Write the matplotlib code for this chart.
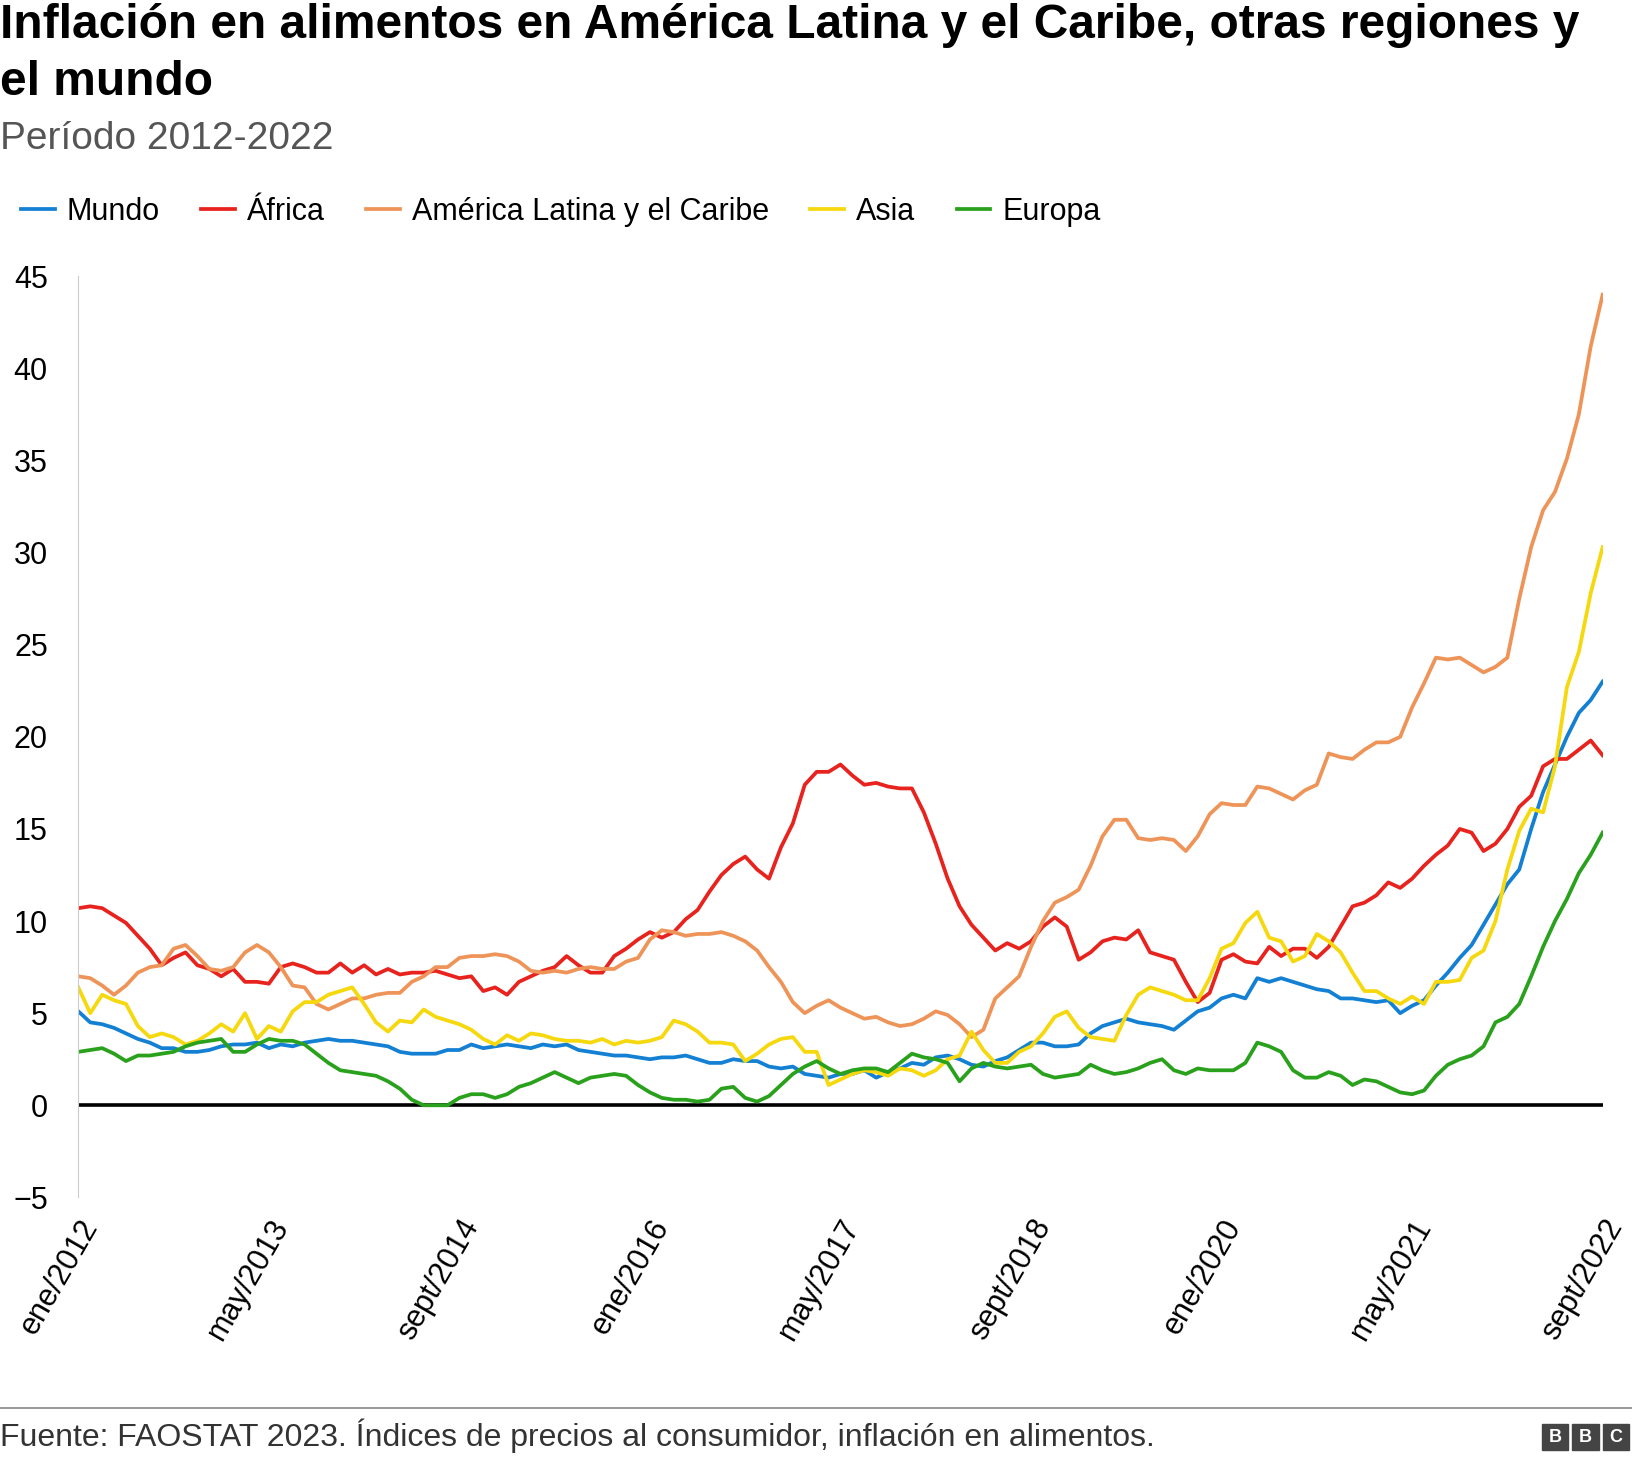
import matplotlib
matplotlib.use("Agg")
import matplotlib.pyplot as plt
from matplotlib.patches import Rectangle

plt.rcParams['font.family'] = ['Liberation Sans', 'DejaVu Sans']
plt.rcParams['axes.unicode_minus'] = True

tick_labels = ["ene/2012", "may/2013", "sept/2014", "ene/2016", "may/2017",
               "sept/2018", "ene/2020", "may/2021", "sept/2022"]
series_names = ["Mundo", "África", "América Latina y el Caribe", "Asia", "Europa"]
colors = ["#1380d3", "#e8231e", "#ef9458", "#f6d80f", "#2aa11c"]

mundo = [5.1, 4.5, 4.4, 4.2, 3.9, 3.6, 3.4, 3.1, 3.1, 2.9, 2.9, 3.0,
         3.2, 3.3, 3.3, 3.4, 3.1, 3.3, 3.2, 3.4, 3.5, 3.6, 3.5, 3.5,
         3.4, 3.3, 3.2, 2.9, 2.8, 2.8, 2.8, 3.0, 3.0, 3.3, 3.1, 3.2,
         3.3, 3.2, 3.1, 3.3, 3.2, 3.3, 3.0, 2.9, 2.8, 2.7, 2.7, 2.6,
         2.5, 2.6, 2.6, 2.7, 2.5, 2.3, 2.3, 2.5, 2.4, 2.4, 2.1, 2.0,
         2.1, 1.7, 1.6, 1.5, 1.7, 1.7, 1.9, 1.5, 1.8, 2.0, 2.3, 2.2,
         2.6, 2.7, 2.5, 2.2, 2.1, 2.4, 2.6, 3.0, 3.4, 3.4, 3.2, 3.2,
         3.3, 3.9, 4.3, 4.5, 4.7, 4.5, 4.4, 4.3, 4.1, 4.6, 5.1, 5.3,
         5.8, 6.0, 5.8, 6.9, 6.7, 6.9, 6.7, 6.5, 6.3, 6.2, 5.8, 5.8,
         5.7, 5.6, 5.7, 5.0, 5.4, 5.7, 6.5, 7.2, 8.0, 8.7, 9.8, 10.9,
         12.0, 12.8, 15.0, 17.0, 18.5, 20.0, 21.3, 22.0, 23.0]
africa = [10.7, 10.8, 10.7, 10.3, 9.9, 9.2, 8.5, 7.6, 8.0, 8.3, 7.6, 7.4,
          7.0, 7.4, 6.7, 6.7, 6.6, 7.5, 7.7, 7.5, 7.2, 7.2, 7.7, 7.2,
          7.6, 7.1, 7.4, 7.1, 7.2, 7.2, 7.3, 7.1, 6.9, 7.0, 6.2, 6.4,
          6.0, 6.7, 7.0, 7.3, 7.5, 8.1, 7.6, 7.2, 7.2, 8.1, 8.5, 9.0,
          9.4, 9.1, 9.4, 10.1, 10.6, 11.6, 12.5, 13.1, 13.5, 12.8, 12.3, 14.0,
          15.3, 17.4, 18.1, 18.1, 18.5, 17.9, 17.4, 17.5, 17.3, 17.2, 17.2, 15.9,
          14.2, 12.3, 10.8, 9.8, 9.1, 8.4, 8.8, 8.5, 8.9, 9.7, 10.2, 9.7,
          7.9, 8.3, 8.9, 9.1, 9.0, 9.5, 8.3, 8.1, 7.9, 6.7, 5.6, 6.1,
          7.9, 8.2, 7.8, 7.7, 8.6, 8.1, 8.5, 8.5, 8.0, 8.6, 9.7, 10.8,
          11.0, 11.4, 12.1, 11.8, 12.3, 13.0, 13.6, 14.1, 15.0, 14.8, 13.8, 14.2,
          15.0, 16.2, 16.8, 18.4, 18.8, 18.8, 19.3, 19.8, 19.0]
latam = [7.0, 6.9, 6.5, 6.0, 6.5, 7.2, 7.5, 7.6, 8.5, 8.7, 8.1, 7.4,
         7.3, 7.5, 8.3, 8.7, 8.3, 7.5, 6.5, 6.4, 5.5, 5.2, 5.5, 5.8,
         5.8, 6.0, 6.1, 6.1, 6.7, 7.0, 7.5, 7.5, 8.0, 8.1, 8.1, 8.2,
         8.1, 7.8, 7.3, 7.2, 7.3, 7.2, 7.4, 7.5, 7.4, 7.4, 7.8, 8.0,
         9.0, 9.5, 9.4, 9.2, 9.3, 9.3, 9.4, 9.2, 8.9, 8.4, 7.5, 6.7,
         5.6, 5.0, 5.4, 5.7, 5.3, 5.0, 4.7, 4.8, 4.5, 4.3, 4.4, 4.7,
         5.1, 4.9, 4.4, 3.7, 4.1, 5.8, 6.4, 7.0, 8.6, 10.0, 11.0, 11.3,
         11.7, 13.0, 14.6, 15.5, 15.5, 14.5, 14.4, 14.5, 14.4, 13.8, 14.6, 15.8,
         16.4, 16.3, 16.3, 17.3, 17.2, 16.9, 16.6, 17.1, 17.4, 19.1, 18.9, 18.8,
         19.3, 19.7, 19.7, 20.0, 21.6, 22.9, 24.3, 24.2, 24.3, 23.9, 23.5, 23.8,
         24.3, 27.5, 30.3, 32.3, 33.3, 35.1, 37.5, 41.2, 44.0]
asia = [6.4, 5.0, 6.0, 5.7, 5.5, 4.3, 3.7, 3.9, 3.7, 3.3, 3.5, 3.9,
        4.4, 4.0, 5.0, 3.6, 4.3, 4.0, 5.1, 5.6, 5.6, 6.0, 6.2, 6.4,
        5.5, 4.5, 4.0, 4.6, 4.5, 5.2, 4.8, 4.6, 4.4, 4.1, 3.6, 3.3,
        3.8, 3.5, 3.9, 3.8, 3.6, 3.5, 3.5, 3.4, 3.6, 3.3, 3.5, 3.4,
        3.5, 3.7, 4.6, 4.4, 4.0, 3.4, 3.4, 3.3, 2.4, 2.8, 3.3, 3.6,
        3.7, 2.9, 2.9, 1.1, 1.4, 1.7, 1.9, 1.8, 1.6, 2.0, 1.9, 1.6,
        1.9, 2.5, 2.7, 4.0, 3.0, 2.3, 2.3, 2.9, 3.2, 3.9, 4.8, 5.1,
        4.2, 3.7, 3.6, 3.5, 4.9, 6.0, 6.4, 6.2, 6.0, 5.7, 5.7, 6.9,
        8.5, 8.8, 9.9, 10.5, 9.1, 8.9, 7.8, 8.1, 9.3, 8.9, 8.3, 7.2,
        6.2, 6.2, 5.8, 5.5, 5.9, 5.5, 6.7, 6.7, 6.8, 8.0, 8.4, 10.0,
        12.8, 14.9, 16.1, 15.9, 18.4, 22.7, 24.6, 27.8, 30.3]
europa = [2.9, 3.0, 3.1, 2.8, 2.4, 2.7, 2.7, 2.8, 2.9, 3.2, 3.4, 3.5,
          3.6, 2.9, 2.9, 3.3, 3.6, 3.5, 3.5, 3.3, 2.8, 2.3, 1.9, 1.8,
          1.7, 1.6, 1.3, 0.9, 0.3, 0.0, 0.0, 0.0, 0.4, 0.6, 0.6, 0.4,
          0.6, 1.0, 1.2, 1.5, 1.8, 1.5, 1.2, 1.5, 1.6, 1.7, 1.6, 1.1,
          0.7, 0.4, 0.3, 0.3, 0.2, 0.3, 0.9, 1.0, 0.4, 0.2, 0.5, 1.1,
          1.7, 2.1, 2.4, 2.0, 1.7, 1.9, 2.0, 2.0, 1.8, 2.3, 2.8, 2.6,
          2.5, 2.3, 1.3, 2.0, 2.3, 2.1, 2.0, 2.1, 2.2, 1.7, 1.5, 1.6,
          1.7, 2.2, 1.9, 1.7, 1.8, 2.0, 2.3, 2.5, 1.9, 1.7, 2.0, 1.9,
          1.9, 1.9, 2.3, 3.4, 3.2, 2.9, 1.9, 1.5, 1.5, 1.8, 1.6, 1.1,
          1.4, 1.3, 1.0, 0.7, 0.6, 0.8, 1.6, 2.2, 2.5, 2.7, 3.2, 4.5,
          4.8, 5.5, 7.0, 8.6, 10.0, 11.2, 12.6, 13.6, 14.8]

data = [mundo, africa, latam, asia, europa]

fig = plt.figure(figsize=(16.32, 14.62), dpi=100)
ax = fig.add_axes([0.048, 0.181, 0.934, 0.630])
for name, vals, c in zip(series_names, data, colors):
    ax.plot(range(len(vals)), vals, color=c, lw=2.7, label=name)
ax.axhline(0, color="black", lw=2.6, zorder=0)
ax.set_xlim(0, 128)
ax.set_ylim(-5, 45)
ax.set_yticks(range(-5, 50, 5))
ax.set_xticks(range(0, 129, 16))
ax.set_xticklabels(tick_labels, rotation=60, ha="right", va="top",
                   rotation_mode="anchor", fontsize=22)
ax.tick_params(axis="y", labelsize=22, length=0, pad=22)
ax.tick_params(axis="x", length=0, pad=12)
for s in ["top", "right", "bottom"]:
    ax.spines[s].set_visible(False)
ax.spines["left"].set_color("#cccccc")

fig.text(0.0, 0.998, "Inflación en alimentos en América Latina y el Caribe, otras regiones y\nel mundo",
         fontsize=34.5, fontweight="bold", va="top", ha="left", linespacing=1.35)
fig.text(0.0, 0.905, "Período 2012-2022", fontsize=28, color="#555555", va="center")
fig.legend(loc="center left", bbox_to_anchor=(-0.004, 0.855), ncol=5, frameon=False,
           fontsize=22, handlelength=1.1, handletextpad=0.4, columnspacing=1.35)

fig.add_artist(plt.Line2D([0, 1], [0.037, 0.037], color="#888888", lw=1.2))
fig.text(0.0, 0.018, "Fuente: FAOSTAT 2023. Índices de precios al consumidor, inflación en alimentos.",
         fontsize=23, color="#333333", va="center")
for i, letter in enumerate("BBC"):
    x0 = 0.945 + i * 0.0185
    fig.add_artist(Rectangle((x0, 0.008), 0.016, 0.018, transform=fig.transFigure,
                             color="#444444"))
    fig.text(x0 + 0.008, 0.017, letter, color="white", fontsize=13,
             fontweight="bold", ha="center", va="center")

fig.savefig("out.png", dpi=100)
